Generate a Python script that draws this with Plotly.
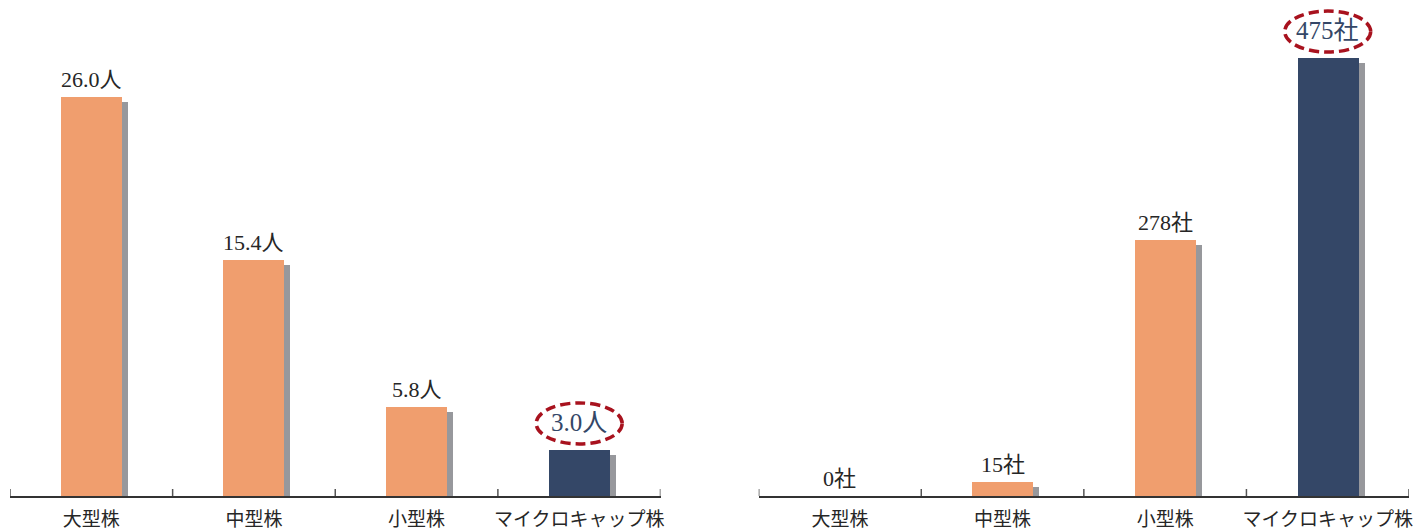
import plotly.graph_objects as go

# Category names shared by both panels
categories = ["大型株", "中型株", "小型株", "マイクロキャップ株"]

# Left panel: persons per company
people = [26.0, 15.4, 5.8, 3.0]
people_unit = "人"

# Right panel: number of companies
companies = [0, 15, 278, 475]
company_unit = "社"

highlight_index = 3

ORANGE = "#F09E6E"
NAVY = "#344767"
SHADOW = "#97989C"
TEXT = "#262626"
RING = "#A8121E"
FONT = "Liberation Serif, 'Noto Sans CJK JP', serif"
CAT_FONT = "'Noto Sans CJK JP', sans-serif"

BAR_W = 0.375
SHADOW_SHIFT = 0.037

W, H = 1413, 532
M_L, M_R, M_T, M_B = 10, 4, 0, 36
PLOT_W = W - M_L - M_R
left_domain = [0, 650.5 / PLOT_W]
right_domain = [(758.7 - M_L) / PLOT_W, 1]

panels = [
    dict(values=people, unit=people_unit, fmt="{:.1f}", xa="x", ya="y", ymax=32.3, drop=0.33),
    dict(values=companies, unit=company_unit, fmt="{:d}", xa="x2", ya="y2", ymax=538, drop=5.4),
]

fig = go.Figure()
shapes = []
annotations = []

for p in panels:
    vals = p["values"]
    colors = [NAVY if i == highlight_index else ORANGE for i in range(len(vals))]
    # drop shadow behind each bar
    fig.add_trace(go.Bar(
        x=categories, y=vals, base=[-p["drop"]] * len(vals),
        width=BAR_W, offset=-BAR_W / 2 + SHADOW_SHIFT,
        marker=dict(color=SHADOW, line=dict(width=0)),
        xaxis=p["xa"], yaxis=p["ya"], hoverinfo="skip", showlegend=False,
    ))
    fig.add_trace(go.Bar(
        x=categories, y=vals, width=BAR_W, offset=-BAR_W / 2,
        marker=dict(color=colors, line=dict(width=0)),
        xaxis=p["xa"], yaxis=p["ya"], showlegend=False,
    ))
    # value labels
    for i, v in enumerate(vals):
        hi = i == highlight_index
        annotations.append(dict(
            x=categories[i], y=v, xref=p["xa"], yref=p["ya"],
            text=p["fmt"].format(v) + p["unit"], showarrow=False,
            yanchor="bottom", xanchor="center",
            yshift=12 if hi else 3,
            font=dict(family=FONT, size=25 if hi else 22, color=NAVY if hi else TEXT),
        ))
    # tick marks crossing the axis at category boundaries
    for b in [-0.5, 0.5, 1.5, 2.5, 3.5]:
        shapes.append(dict(
            type="line", xref=p["xa"], yref=p["ya"], x0=b, x1=b,
            ysizemode="pixel", yanchor=0, y0=-8, y1=7,
            line=dict(color="#555555", width=1.5),
        ))
    # dashed ring around the highlighted value
    shapes.append(dict(
        type="circle", xref=p["xa"], yref=p["ya"],
        xsizemode="pixel", xanchor=highlight_index, x0=-43, x1=43,
        ysizemode="pixel", yanchor=vals[highlight_index], y0=6, y1=47,
        line=dict(color=RING, width=3.5, dash="10px,5px"),
    ))

axis_x = dict(
    type="category", range=[-0.5, 3.5], showline=True, linecolor="#333333", linewidth=1.5,
    ticks="outside", ticklen=5, tickcolor="rgba(0,0,0,0)", showgrid=False, zeroline=False,
    tickfont=dict(family=CAT_FONT, size=19, color=TEXT), fixedrange=True, automargin=False,
)
axis_y = dict(visible=False, showgrid=False, zeroline=False, fixedrange=True, automargin=False)

fig.update_layout(
    width=W, height=H,
    margin=dict(l=M_L, r=M_R, t=M_T, b=M_B),
    paper_bgcolor="white", plot_bgcolor="white",
    barmode="overlay", bargap=0,
    xaxis=dict(axis_x, domain=left_domain, anchor="y"),
    xaxis2=dict(axis_x, domain=right_domain, anchor="y2"),
    yaxis=dict(axis_y, range=[0, 32.3], anchor="x"),
    yaxis2=dict(axis_y, range=[0, 538], anchor="x2"),
    shapes=shapes, annotations=annotations,
)

fig.write_html("out.html")
